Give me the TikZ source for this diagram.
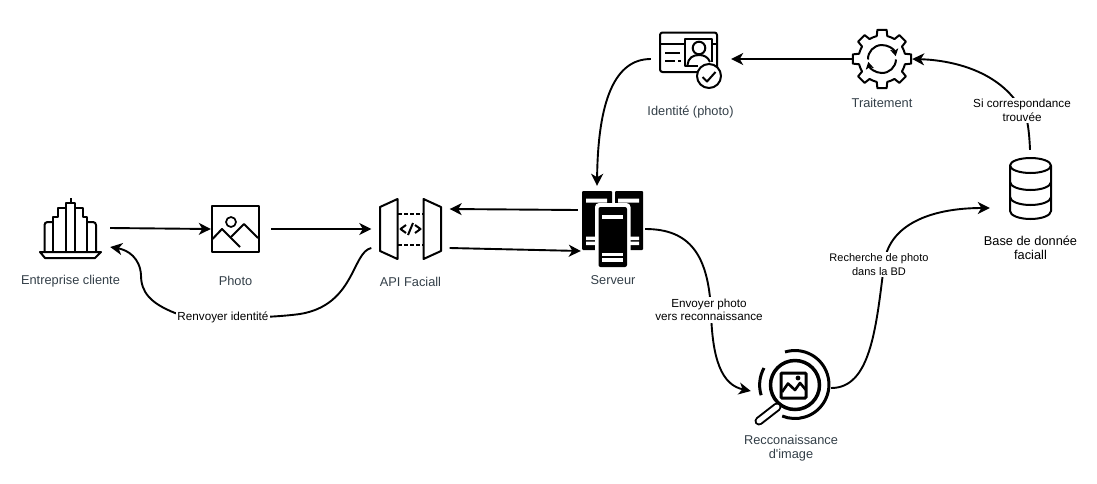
\documentclass[tikz,border=0pt]{standalone}
\usepackage{fontspec}
\setmainfont{Liberation Sans}[Ligatures=TeXOff]
\usetikzlibrary{arrows.meta,backgrounds,calc}
\definecolor{captiongray}{HTML}{333F48}

\begin{document}
\begin{tikzpicture}[
  x=1pt, y=-1pt,
  icon/.style={draw=black, line width=2pt, line join=round},
  flow/.style={draw=black, line width=1.9pt, -{Stealth[length=12pt,width=12pt,inset=3.5pt]}},
  turn/.style={line width=2pt, -{Stealth[length=7pt,width=8pt,inset=1.5pt]}},
  slot/.style 2 args={minimum width=#1pt, minimum height=#2pt, inner sep=0pt},
  caption/.style={text=captiongray, align=center, inner sep=0pt, font=\fontsize{12.8}{14}\selectfont},
  edgetext/.style={fill=white, align=center, inner sep=1.5pt, font=\fontsize{11.7}{13.5}\selectfont},
  ]
\useasboundingbox (0,0) rectangle (1097,483);

% Slots around the icons
\node[slot={80}{62}] (client) at (70,228) {};
\node[slot={48}{48}] (photo) at (235,229) {};
\node[slot={78}{62}] (api) at (410.5,229) {};
\node[slot={64}{86}] (srv) at (613,229) {};
\node[slot={74}{56}] (idcard) at (688,59) {};
\node[slot={60}{60}] (gear) at (882,59) {};
\node[slot={80}{76}] (db) at (1030,188) {};
\node[slot={80}{80}] (recog) at (791,388) {};

% Captions
\node[caption] (clientname) at (70.5,281) {Entreprise cliente};
\node[caption] (photoname) at (235.5,281) {Photo};
\node[caption] (apiname) at (410.5,281.5) {API Faciall};
\node[caption] (srvname) at (613,280) {Serveur};
\node[caption] (idname) at (690.5,112) {Identité (photo)};
\node[caption] (gearname) at (882,102.5) {Traitement};
\node[caption, text=black] (dbname) at (1030.5,248) {Base de donnée\\faciall};
\node[caption] (recogname) at (791,448) {Recconaissance\\d'image};

% Edge labels
\node[edgetext] (sendback) at (223,317.5) {Renvoyer identité};
\node[edgetext] (sendrecog) at (709,310) {Envoyer photo\\vers reconnaissance};
\node[edgetext, font=\fontsize{11}{13.5}\selectfont] (lookup) at (879,264.5) {Recherche de photo\\dans la BD};
\node[edgetext] (found) at (1022,110.5) {Si correspondance\\trouvée};

% Connectors
\begin{scope}[on background layer]
\draw[flow] (client.east) -- (photo.west);
\draw[flow] ([xshift=12pt]photo.east) -- (api.west);
\draw[flow] ([yshift=-19pt]api.east) -- ([yshift=-22pt]srv.west);
\draw[flow] ([yshift=19pt,xshift=-3pt]srv.west) -- ([yshift=20pt]api.east);
\draw[flow] ([yshift=-19pt]api.west) .. controls (352,252) and (355,305) .. (300,314)
  .. controls (285,316) and (260,318) .. (sendback.center)
  .. controls (205,318) and (190,318) .. (175,313)
  .. controls (150,303) and (141,292) .. (141,275)
  .. controls (140,258) and (128,250) .. ([yshift=-19pt]client.east);
\draw[flow] (srv.east) .. controls (690,229) and (708,255) .. ([xshift=2pt]sendrecog.center)
  .. controls (712,360) and (722,385) .. ([yshift=-3pt]recog.west);
\draw[flow] (recog.east) .. controls (870,388) and (876,330) .. ([xshift=5pt]lookup.center)
  .. controls (888,225) and (930,208) .. ([yshift=-20pt]db.west);
\draw[flow] (db.north) .. controls (1029,125) and (1026,112) .. (found.center)
  .. controls (1000,70) and (950,60) .. (gear.east);
\draw[flow] (gear.west) -- ([xshift=6pt]idcard.east);
\draw[flow] (idcard.west) .. controls (615,59) and (598,100) .. ([xshift=-16pt]srv.north);
\end{scope}

% Company building
\draw[icon] (40,252) -- (101,252) -- (95,258) -- (45,258) -- cycle;
\draw[icon] (53,252) -- (53,217) -- (58,217) -- (58,208) -- (66,208) -- (66,203) -- (75,203) -- (75,252);
\draw[icon] (66,208) -- (66,252);
\draw[icon] (75,208) -- (83,208) -- (83,217) -- (87,217) -- (87,252);
\draw[icon, rounded corners=3pt] (53,222) -- (44.5,222) -- (44.5,252);
\draw[icon, rounded corners=3pt] (87,222) -- (96,222) -- (96,252);
\draw[icon] (70.5,198) -- (70.5,203);

% Photo
\draw[icon] (212,205.5) rectangle (258.5,252);
\draw[icon, line width=1.7pt] (231,222) circle (5);
\draw[icon] (212.5,239) -- (222,229) -- (240,247);
\draw[icon] (231,237) -- (244,224) -- (258,238);

% API gate
\draw[icon] (380,207) -- (397.5,199) -- (397.5,259) -- (380,251) -- cycle;
\draw[icon] (423.5,199) -- (441,207) -- (441,251) -- (423.5,259) -- cycle;
\foreach \ypos in {213.5,245}
  \draw[icon, dash pattern=on 3.5pt off 2.5pt] (398,\ypos) -- (423,\ypos);
\draw[icon] (406,225) -- (400.5,229) -- (406,233);
\draw[icon] (415,225) -- (420.5,229) -- (415,233);
\draw[icon] (408,235) -- (413,223);

% Server
\fill[black, rounded corners=1pt] (582,191) rectangle (612,250);
\fill[black, rounded corners=1pt] (615,191) rectangle (643,250);
\fill[white] (586,198.5) rectangle (607,202.5) (618,198.5) rectangle (639,202.5);
\foreach \ypos in {236.5,241.5}
  \fill[white] (586,\ypos) rectangle (596,\ypos+3.7) (630,\ypos) rectangle (639,\ypos+3.7);
\fill[white, rounded corners=4pt] (595,203) rectangle (630.5,271);
\fill[black, rounded corners=2pt] (598.5,207) rectangle (627,267);
\fill[white] (602,215) rectangle (623,218.7);
\foreach \ypos in {252.5,258}
  \fill[white] (602,\ypos) rectangle (623,\ypos+3.7);

% Identity card
\draw[icon, rounded corners=2.5pt] (660,32.5) rectangle (717,72);
\draw[icon] (660,44) -- (685,44) (712,44) -- (717,44);
\draw[icon] (698,65.5) -- (685,65.5) -- (685,38.5) -- (712,38.5) -- (712,62);
\draw[icon] (699,48) circle (6.3);
\draw[icon] (687.5,65) .. controls (688,58) and (693,55) .. (699,55) .. controls (704,55) and (708,57) .. (710,62);
\draw[icon] (665,53) -- (680,53);
\draw[icon] (665,61) -- (675,61) (678,61) -- (680.5,61);
\draw[icon, fill=white] (709,76) circle (12);
\draw[icon] (702.5,77) -- (707,81.5) -- (715.5,72);

% Gear
\begin{scope}[shift={(882,59)}]
  \foreach \ang in {0,45,...,315}
    \draw[icon] (\ang-22.5:23.5) -- (\ang-13:23.5) -- (\ang-9:29.5) -- (\ang+9:29.5) -- (\ang+13:23.5) -- (\ang+22.5:23.5);
  \draw[turn] (178:14) arc[start angle=178, end angle=348, radius=14];
  \draw[turn] (2:14) arc[start angle=2, end angle=168, radius=14];
\end{scope}

% Database
\draw[icon] (1030.5,165.5) ellipse (20.5 and 7.5);
\draw[icon] (1010,165.5) -- (1010,211) arc[x radius=20.5, y radius=8, start angle=180, end angle=0] -- (1051,165.5);
\foreach \ypos in {182,197}
  \draw[icon] (1010,\ypos) arc[x radius=20.5, y radius=8, start angle=180, end angle=0];

% Image search
\draw[line width=3.5pt] (795,385) circle (24.5);
\draw[line width=3pt, rounded corners=1pt] (781,373) rectangle (806,398);
\draw[line width=2.6pt, line join=round] (782,392) -- (788,383.5) -- (795,390) -- (800,383) -- (806,390);
\fill (798,378) circle (2.4);
\draw[line width=3pt] (785,352) arc[radius=34, start angle=-107, end angle=112];
\draw[line width=3pt] (764,368) arc[radius=35, start angle=-151, end angle=-197];
\draw[line width=9pt, line cap=round] (777,407) -- (759,421);
\draw[white, line width=5pt, line cap=round] (777,407) -- (759,421);
\end{tikzpicture}
\end{document}
